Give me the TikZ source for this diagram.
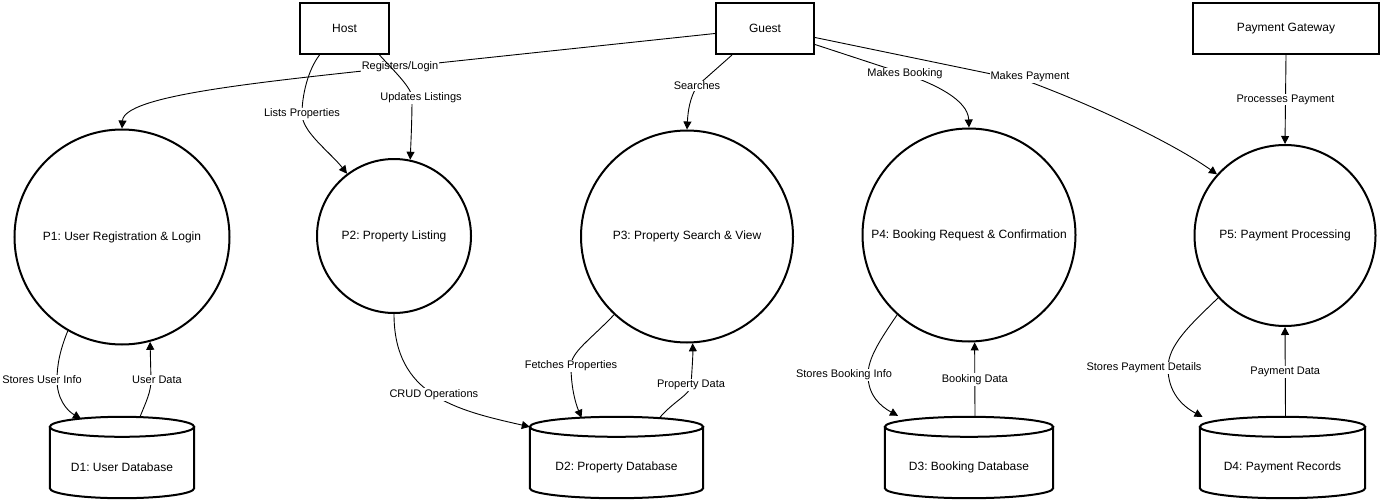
\documentclass[tikz,border=0pt]{standalone}
\usepackage{fontspec}
\setmainfont{Liberation Sans}
\usetikzlibrary{arrows.meta,calc}
\frenchspacing
\tikzset{
    entity/.style={rectangle,draw=black,line width=2pt,minimum height=51pt,inner sep=0,font=\fontsize{12}{14}\selectfont},
    process/.style={circle,draw=black,line width=2pt,inner sep=0,font=\fontsize{12}{14}\selectfont},
    datastore/.style={rectangle,minimum height=61pt,inner sep=0,font=\fontsize{12}{14}\selectfont},
    flow/.style={line width=0.9pt,-{Triangle[length=8pt,width=8pt]}},
    lbl/.style={fill=white,inner sep=1pt,font=\fontsize{11}{13}\selectfont}
}

\begin{document}
\begin{tikzpicture}[x=1pt,y=-1pt]
    \useasboundingbox (0,0) rectangle (1383,500);
    % external entities
    \node[entity,minimum width=89pt] (host) at (344.5,28.5) {Host};
    \node[entity,minimum width=98pt] (guest) at (765,28.5) {Guest};
    \node[entity,minimum width=186pt] (pg) at (1286,28.5) {Payment Gateway};
    % processes
    \node[process,minimum size=215pt] (p1) at (122,237) {P1: User Registration \& Login};
    \node[process,minimum size=154pt] (p2) at (394,236) {P2: Property Listing};
    \node[process,minimum size=212pt] (p3) at (687,236.5) {P3: Property Search \& View};
    \node[process,minimum size=213pt] (p4) at (969,235) {P4: Booking Request \& Confirmation};
    \node[process,minimum size=181pt] (p5) at (1285,235.5) {P5: Payment Processing};
    % data stores
    \node[datastore,minimum width=144pt] (d1) at (122,467.5) {D1: User Database};
    \node[datastore,minimum width=173pt] (d2) at (616.5,467.5) {D2: Property Database};
    \node[datastore,minimum width=168pt] (d3) at (969,467.5) {D3: Booking Database};
    \node[datastore,minimum width=165pt] (d4) at (1282.5,467.5) {D4: Payment Records};
    \foreach \s in {d1,d2,d3,d4}
        \draw[line width=2pt] let \p1=(\s.west), \p2=(\s.east), \n1={0.5*(\x2-\x1)} in
            ([yshift=10pt]\s.north) ellipse [x radius=\n1, y radius=10pt]
            ([yshift=10pt]\s.north west) -- ([yshift=10pt]\s.south west)
            arc [start angle=180, end angle=360, x radius=\n1, y radius=10pt]
            -- ([yshift=10pt]\s.north east);

    % guest
    \draw[flow] ([yshift=-5pt]guest.west) -- (400,67) node[lbl]{Registers/Login}
        .. controls (250,83) and (124,96) .. (p1.north);
    \draw[flow] ([xshift=-33pt]guest.south) -- (697,86) node[lbl]{Searches}
        .. controls (690,98) and (688,110) .. (p3.north);
    \draw[flow] ([yshift=-16pt]guest.east) -- (905,74) node[lbl]{Makes Booking}
        .. controls (935,84) and (968,100) .. (p4.north);
    \draw[flow] ([yshift=-9pt]guest.east) -- (1030,82) node[lbl,yshift=5pt]{Makes Payment}
        .. controls (1110,112) and (1180,148) .. (p5.138);
    % host
    \draw[flow] ([xshift=-25pt]host.south) .. controls (308,70) and (302,95) .. (302,114) node[lbl]{Lists Properties}
        .. controls (302,132) and (330,152) .. (p2.127);
    \draw[flow] ([xshift=35pt]host.south) .. controls (395,72) and (412,88) .. (412,98) node[lbl,xshift=9pt]{Updates Listings}
        .. controls (412,120) and (411,140) .. (p2.78);
    % payment gateway
    \draw[flow] (pg.south) -- node[lbl]{Processes Payment} (p5.north);

    % stores
    \draw[flow] (p1.240) .. controls (60,350) and (57,365) .. (57,380) node[lbl,xshift=-15pt]{Stores User Info}
        .. controls (57,398) and (66,410) .. ([xshift=-41pt,yshift=18pt]d1.north);
    \draw[flow] ([xshift=18pt,yshift=20pt]d1.north) .. controls (146,402) and (151,392) .. (151,380) node[lbl,xshift=6pt]{User Data}
        -- (p1.285);
    \draw[flow] (p2.south) .. controls (394,395) and (455,410) .. ([yshift=10pt]d2.north west) node[lbl,pos=0.5]{CRUD Operations};
    \draw[flow] (p3.227) .. controls (590,340) and (571,352) .. (571,366) node[lbl]{Fetches Properties}
        .. controls (571,386) and (575,402) .. ([xshift=-35pt,yshift=19pt]d2.north);
    \draw[flow] ([xshift=43pt,yshift=19pt]d2.north) .. controls (675,400) and (690,395) .. (691,385) node[lbl]{Property Data}
        .. controls (692,370) and (693,355) .. (p3.273);
    \draw[flow] (p4.228) .. controls (880,340) and (868,358) .. (868,375) node[lbl,xshift=-24pt]{Stores Booking Info}
        .. controls (868,395) and (880,406) .. ([xshift=-71pt,yshift=21pt]d3.north);
    \draw[flow] ([xshift=6pt,yshift=20pt]d3.north) -- node[lbl]{Booking Data} (p4.273);
    \draw[flow] (p5.223) .. controls (1190,325) and (1168,345) .. (1168,368) node[lbl,xshift=-24pt]{Stores Payment Details}
        .. controls (1168,392) and (1182,406) .. ([xshift=-80pt,yshift=20pt]d4.north);
    \draw[flow] ([xshift=3pt,yshift=20pt]d4.north) -- node[lbl]{Payment Data} (p5.south);
\end{tikzpicture}
\end{document}
